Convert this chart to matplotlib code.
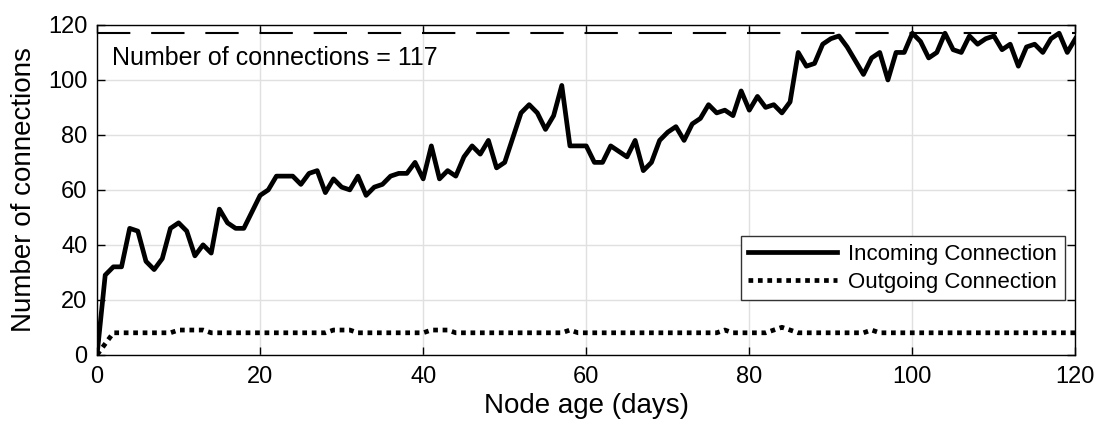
import numpy as np
import matplotlib
matplotlib.use("Agg")
import matplotlib.pyplot as plt

plt.rcParams['font.family'] = ['Liberation Sans', 'DejaVu Sans']

days = list(range(0, 121))
incoming = [0, 29, 32, 32, 46, 45, 34, 31, 35, 46,
            48, 45, 36, 40, 37, 53, 48, 46, 46, 52,
            58, 60, 65, 65, 65, 62, 66, 67, 59, 64,
            61, 60, 65, 58, 61, 62, 65, 66, 66, 70,
            64, 76, 64, 67, 65, 72, 76, 73, 78, 68,
            70, 79, 88, 91, 88, 82, 87, 98, 76, 76,
            76, 70, 70, 76, 74, 72, 78, 67, 70, 78,
            81, 83, 78, 84, 86, 91, 88, 89, 87, 96,
            89, 94, 90, 91, 88, 92, 110, 105, 106, 113,
            115, 116, 112, 107, 102, 108, 110, 100, 110, 110,
            117, 114, 108, 110, 117, 111, 110, 116, 113, 115,
            116, 111, 113, 105, 112, 113, 110, 115, 117, 110,
            115]
outgoing = [0, 4, 8, 8, 8, 8, 8, 8, 8, 8,
            9, 9, 9, 9, 8, 8, 8, 8, 8, 8,
            8, 8, 8, 8, 8, 8, 8, 8, 8, 9,
            9, 9, 8, 8, 8, 8, 8, 8, 8, 8,
            8, 9, 9, 9, 8, 8, 8, 8, 8, 8,
            8, 8, 8, 8, 8, 8, 8, 8, 9, 8,
            8, 8, 8, 8, 8, 8, 8, 8, 8, 8,
            8, 8, 8, 8, 8, 8, 8, 9, 8, 8,
            8, 8, 8, 9, 10, 9, 8, 8, 8, 8,
            8, 8, 8, 8, 8, 9, 8, 8, 8, 8,
            8, 8, 8, 8, 8, 8, 8, 8, 8, 8,
            8, 8, 8, 8, 8, 8, 8, 8, 8, 8,
            8]
max_conn = 117

fig = plt.figure(figsize=(11.03, 4.38), dpi=100)
ax = fig.add_axes([0.088, 0.19, 0.887, 0.753])

ax.plot(days, incoming, color='black', lw=3.4, label='Incoming Connection')
ax.plot(days, outgoing, color='black', lw=3.4, ls=(0, (1, 1)), label='Outgoing Connection')
ax.axhline(max_conn, color='black', lw=1.5, ls=(0, (16, 10)))
ax.text(1.8, 108, 'Number of connections = %d' % max_conn, fontsize=18, va='center', ha='left')

ax.set_xlim(0, 120)
ax.set_ylim(0, 120)
ax.set_xticks(range(0, 121, 20))
ax.set_yticks(range(0, 121, 20))
ax.grid(True, color='#e0e0e0', lw=1)
ax.set_axisbelow(True)
ax.tick_params(direction='in', labelsize=17, top=True, right=True, length=6, width=1)
ax.tick_params(axis='x', pad=8)
ax.tick_params(axis='y', pad=7)
for s in ax.spines.values():
    s.set_linewidth(1)
ax.set_xlabel('Node age (days)', fontsize=20, labelpad=4)
ax.set_ylabel('Number of connections', fontsize=20, labelpad=8)

leg = ax.legend(loc='lower right', bbox_to_anchor=(0.9895, 0.165), fontsize=16,
                fancybox=False, edgecolor='#333333', framealpha=1,
                handlelength=4.0, handletextpad=0.5, borderpad=0.35,
                labelspacing=0.3, borderaxespad=0)
leg.get_frame().set_linewidth(1)

fig.savefig('out.png', dpi=100)
